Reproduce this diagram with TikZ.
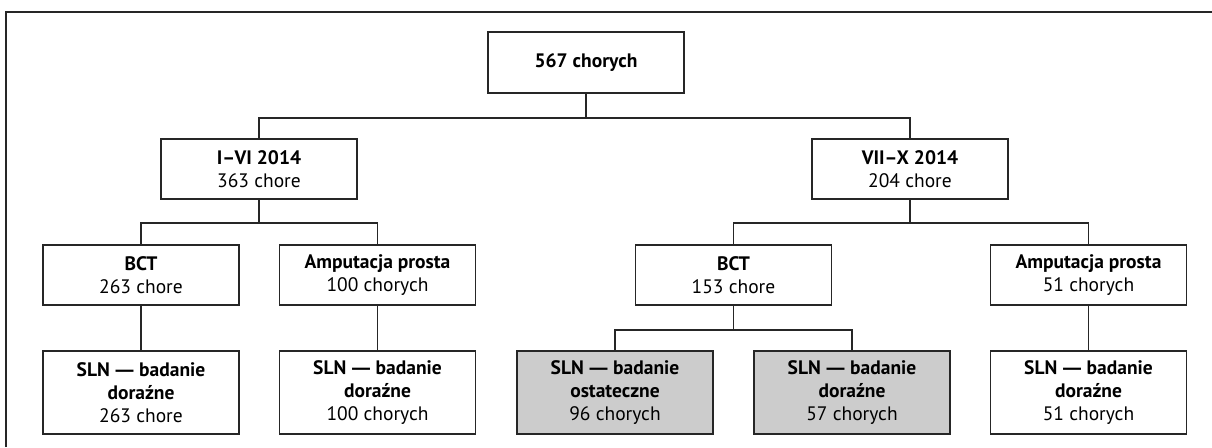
\documentclass[tikz,border=0pt]{standalone}
\usepackage{fontspec}
\setmainfont{PT Sans}
\newfontfamily\dashfont{Open Sans}
\newcommand{\emd}{{\dashfont\bfseries —}}
\begin{document}
\begin{tikzpicture}[x=1pt,y=-1pt,
  box/.style={draw=black!85, line width=1.4pt, fill=white, minimum width=196pt, inner sep=0pt, align=center,
    font=\fontsize{19.5}{23}\selectfont, text=black},
  hbox/.style={box, minimum height=60pt},
  tbox/.style={box, minimum height=83pt},
  greybox/.style={tbox, fill=black!20},
  conn/.style={draw=black!85, line width=1.4pt}]
\useasboundingbox (0,0) rectangle (1212,447);
\draw[conn] (6,447) -- (6,12) -- (1212,12);
\node[box, minimum height=61pt] (root) at (586,62.5) {\textbf{567 chorych}};
\node[hbox] (p1) at (259,169) {\textbf{I–VI 2014}\\363 chore};
\node[hbox] (p2) at (910,169) {\textbf{VII–X 2014}\\204 chore};
\node[hbox] (bct1) at (141,275) {\textbf{BCT}\\263 chore};
\node[hbox] (amp1) at (377.5,275) {\textbf{Amputacja prosta}\\100 chorych};
\node[hbox] (bct2) at (733.5,275) {\textbf{BCT}\\153 chore};
\node[hbox] (amp2) at (1088.5,275) {\textbf{Amputacja prosta}\\51 chorych};
\node[tbox] (s1) at (141,392.5) {\textbf{SLN \emd{} badanie}\\\textbf{doraźne}\\263 chore};
\node[tbox] (s2) at (377.5,392.5) {\textbf{SLN \emd{} badanie}\\\textbf{doraźne}\\100 chorych};
\node[greybox] (s3) at (615,392.5) {\textbf{SLN \emd{} badanie}\\\textbf{ostateczne}\\96 chorych};
\node[greybox] (s4) at (852,392.5) {\textbf{SLN \emd{} badanie}\\\textbf{doraźne}\\57 chorych};
\node[tbox] (s5) at (1088.5,392.5) {\textbf{SLN \emd{} badanie}\\\textbf{doraźne}\\51 chorych};
\coordinate (j0) at (586,118);
\coordinate (j1) at (259,223);
\coordinate (j2) at (910,223);
\coordinate (j3) at (733.5,330);
\draw[conn] (root.south) -- (j0);
\draw[conn] (p1.north) |- (j0) -| (p2.north);
\draw[conn] (p1.south) -- (j1);
\draw[conn] (bct1.north) |- (j1) -| (amp1.north);
\draw[conn] (p2.south) -- (j2);
\draw[conn] (bct2.north) |- (j2) -| (amp2.north);
\draw[conn] (bct1.south) -- (s1.north);
\draw[conn] (amp1.south) -- (s2.north);
\draw[conn] (amp2.south) -- (s5.north);
\draw[conn] (bct2.south) -- (j3);
\draw[conn] (s3.north) |- (j3) -| (s4.north);
\end{tikzpicture}
\end{document}
